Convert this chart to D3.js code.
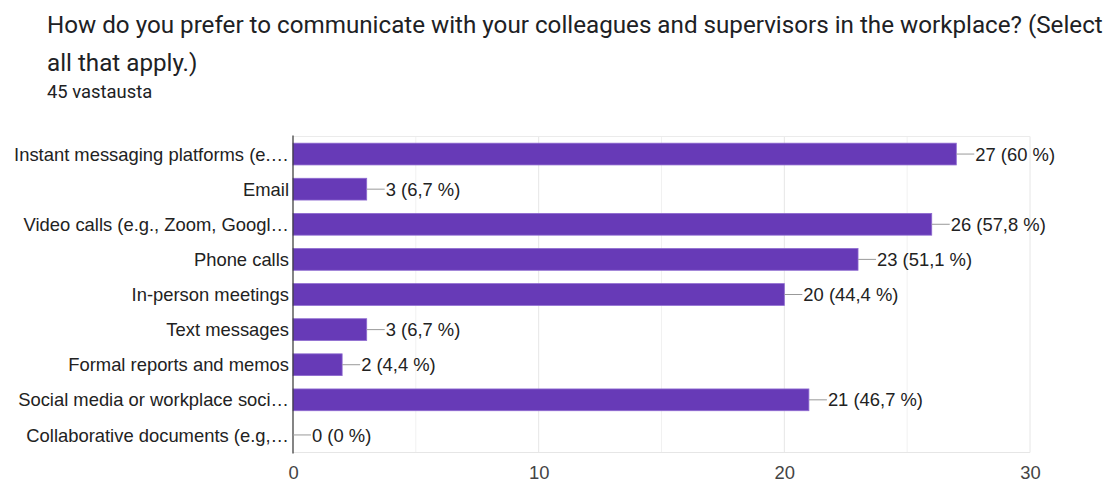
<!DOCTYPE html>
<html>
<head>
<meta charset="utf-8">
<script src="https://cdn.jsdelivr.net/npm/d3@7"></script>
<style>
  html, body { margin: 0; padding: 0; background: #fff; }
  svg { display: block; }
</style>
</head>
<body>
<svg id="chart" width="1118" height="484"></svg>
<script>
// Survey question and response count
const titleLines = [
  "How do you prefer to communicate with your colleagues and supervisors in the workplace? (Select",
  "all that apply.)"
];
const responseCount = "45 vastausta";

// Answer options (truncated as displayed) and counts
const categories = [
  "Instant messaging platforms (e.…",
  "Email",
  "Video calls (e.g., Zoom, Googl…",
  "Phone calls",
  "In-person meetings",
  "Text messages",
  "Formal reports and memos",
  "Social media or workplace soci…",
  "Collaborative documents (e.g,…"
];
const counts = [27, 3, 26, 23, 20, 3, 2, 21, 0];
const percentLabels = ["60 %", "6,7 %", "57,8 %", "51,1 %", "44,4 %", "6,7 %", "4,4 %", "46,7 %", "0 %"];
const tickValues = [0, 10, 20, 30];
const gridValues = [5, 10, 15, 20, 25, 30];

const svg = d3.select("#chart");
const labelFont = "'Liberation Sans', Arial, sans-serif";
const labelSize = 18.4;

// Header
const header = svg.append("g");
header.selectAll("text.title")
  .data(titleLines)
  .join("text")
  .attr("class", "title")
  .attr("x", 47)
  .attr("y", (d, i) => 33 + i * 38)
  .attr("font-family", "Roboto, sans-serif")
  .attr("font-size", 24.2)
  .attr("fill", "#202124")
  .text(d => d);
header.append("text")
  .attr("x", 47)
  .attr("y", 98)
  .attr("font-family", "Roboto, sans-serif")
  .attr("font-size", 18.4)
  .attr("fill", "#202124")
  .text(responseCount);

// Plot area
const plot = { left: 293, right: 1030, top: 136.5, bottom: 452.5 };

const x = d3.scaleLinear().domain([0, 30]).range([plot.left, plot.right]);
const y = d3.scaleBand()
  .domain(categories)
  .range([plot.top, plot.bottom])
  .paddingInner(0.38)
  .paddingOuter(0.19);

const g = svg.append("g");

// Vertical grid lines
g.selectAll("line.grid")
  .data(gridValues)
  .join("line")
  .attr("class", "grid")
  .attr("x1", d => x(d)).attr("x2", d => x(d))
  .attr("y1", plot.top).attr("y2", plot.bottom)
  .attr("stroke", d => d % 10 === 0 ? "#e6e6e6" : "#f1f1f1")
  .attr("stroke-width", 1);

// Plot frame (top and bottom)
g.append("line")
  .attr("x1", plot.left).attr("x2", plot.right)
  .attr("y1", plot.top).attr("y2", plot.top)
  .attr("stroke", "#ebebeb");
g.append("line")
  .attr("x1", plot.left).attr("x2", plot.right)
  .attr("y1", plot.bottom).attr("y2", plot.bottom)
  .attr("stroke", "#e6e6e6");

// Bars
g.selectAll("rect.bar")
  .data(categories)
  .join("rect")
  .attr("class", "bar")
  .attr("x", x(0))
  .attr("y", d => y(d))
  .attr("width", (d, i) => x(counts[i]) - x(0))
  .attr("height", y.bandwidth())
  .attr("fill", "#673ab7")
  .attr("stroke", (d, i) => counts[i] > 0 ? "#8e6ad0" : "none")
  .attr("stroke-width", 0.8);

// Baseline at zero
g.append("line")
  .attr("x1", x(0)).attr("x2", x(0))
  .attr("y1", plot.top - 1).attr("y2", plot.bottom + 1)
  .attr("stroke", "#333")
  .attr("stroke-width", 1.2);

// Leader lines and value labels
const leader = 18;
g.selectAll("line.leader")
  .data(categories)
  .join("line")
  .attr("class", "leader")
  .attr("x1", (d, i) => x(counts[i]))
  .attr("x2", (d, i) => x(counts[i]) + leader)
  .attr("y1", d => y(d) + y.bandwidth() / 2)
  .attr("y2", d => y(d) + y.bandwidth() / 2)
  .attr("stroke", "#999")
  .attr("stroke-width", 1);

g.selectAll("text.value")
  .data(categories)
  .join("text")
  .attr("class", "value")
  .attr("x", (d, i) => x(counts[i]) + leader + 1)
  .attr("y", d => y(d) + y.bandwidth() / 2)
  .attr("dy", "0.36em")
  .attr("font-family", labelFont)
  .attr("font-size", labelSize)
  .attr("fill", "#222")
  .text((d, i) => `${counts[i]} (${percentLabels[i]})`);

// Category labels
g.selectAll("text.cat")
  .data(categories)
  .join("text")
  .attr("class", "cat")
  .attr("x", plot.left - 4)
  .attr("y", d => y(d) + y.bandwidth() / 2)
  .attr("dy", "0.36em")
  .attr("text-anchor", "end")
  .attr("font-family", labelFont)
  .attr("font-size", labelSize)
  .attr("fill", "#222")
  .text(d => d);

// X axis tick labels
const xAxis = d3.axisBottom(x).tickValues(tickValues).tickSize(0).tickPadding(13);
const axisG = svg.append("g")
  .attr("transform", `translate(0,${plot.bottom})`)
  .call(xAxis);
axisG.select(".domain").remove();
axisG.selectAll("text")
  .attr("font-family", labelFont)
  .attr("font-size", labelSize)
  .attr("fill", "#444");
</script>
</body>
</html>
